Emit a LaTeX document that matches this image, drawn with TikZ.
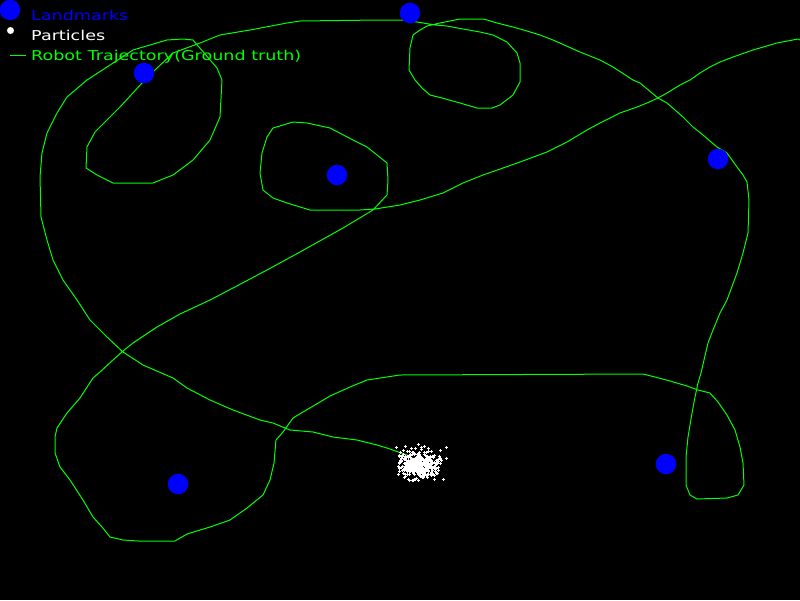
\documentclass[tikz,border=0pt]{standalone}
\usepackage{fontspec}
\newfontfamily\hfont[FakeStretch=1.29]{DejaVu Sans}
\definecolor{lmblue}{RGB}{0,0,255}
\definecolor{trgreen}{RGB}{0,255,0}
\tikzset{
  landmark/.style={circle,fill=lmblue,inner sep=0pt,minimum size=20.5pt},
  traj/.style={draw=trgreen,line width=1pt,line join=round},
  legtext/.style={anchor=base west,inner sep=0pt,font=\hfont\fontsize{13.6}{14}\selectfont},
  particle/.style={draw=white,line width=1pt}
}
\begin{document}
\begin{tikzpicture}[x=1pt,y=-1pt]
\fill[black] (0,0) rectangle (800,600);
\useasboundingbox (0,0) rectangle (800,600);

% trajectory
\draw[traj] (800,40) -- (798,39) -- (777,43) -- (753,50) -- (733,57) -- (720,62) -- (710,67) -- (700,73) -- (690,80) -- (680,85) -- (667,93) -- (658,98) -- (647,103) -- (637,107) -- (620,113) -- (600,123) -- (587,130) -- (567,142) -- (547,152) -- (520,162) -- (503,168) -- (483,175) -- (463,183) -- (443,193) -- (420,200) -- (400,205) -- (375,209) -- (360,210) -- (310,210) -- (287,203) -- (273,198) -- (263,190) -- (260,173) -- (262,153) -- (267,137) -- (273,128) -- (293,122) -- (307,123) -- (330,128) -- (353,140) -- (367,147) -- (387,163) -- (388,180) -- (387,195) -- (373,210) -- (343,228) -- (300,252) -- (267,270) -- (233,288) -- (210,300) -- (180,314) -- (157,327) -- (133,343) -- (123,351) -- (113,360) -- (100,372) -- (93,378) -- (80,398) -- (67,413) -- (57,428) -- (55,437) -- (55,453) -- (60,467) -- (70,480) -- (83,500) -- (93,517) -- (102,527) -- (110,537) -- (123,540) -- (138,541) -- (175,541) -- (187,534) -- (210,527) -- (230,520) -- (247,508) -- (263,495) -- (270,480) -- (274,463) -- (276,440) -- (283,432) -- (293,418) -- (303,412) -- (320,402) -- (330,396) -- (350,387) -- (367,380) -- (400,375) -- (643,374) -- (655,377) -- (670,381) -- (687,386) -- (698,390) -- (710,393) -- (718,402) -- (727,415) -- (735,430) -- (740,447) -- (743,463) -- (744,485) -- (738,495) -- (727,498) -- (697,499) -- (690,495) -- (686,485) -- (686,457) -- (688,437) -- (692,413) -- (695,397) -- (698,383) -- (701,373) -- (704,360) -- (708,343) -- (713,330) -- (720,313) -- (727,300) -- (737,273) -- (743,253) -- (748,233) -- (749,200) -- (747,182) -- (743,175) -- (737,167) -- (727,153) -- (717,147) -- (703,135) -- (693,127) -- (683,117) -- (667,103) -- (658,98) -- (640,83) -- (633,80) -- (613,67) -- (600,60) -- (580,52) -- (553,40) -- (540,35) -- (527,31) -- (513,27) -- (497,23) -- (487,20) -- (483,19) -- (460,19) -- (440,23) -- (427,26) -- (420,30) -- (413,35) -- (410,48) -- (409,70) -- (415,80) -- (422,88) -- (430,95) -- (442,98) -- (460,103) -- (477,108) -- (492,108) -- (500,105) -- (513,95) -- (520,82) -- (520,63) -- (517,53) -- (507,42) -- (493,35) -- (480,32) -- (463,29) -- (447,26) -- (435,25) -- (417,22) -- (402,20) -- (380,20) -- (300,21) -- (287,23) -- (250,30) -- (220,35) -- (200,43) -- (173,53) -- (155,70) -- (143,82) -- (120,107) -- (95,132) -- (87,147) -- (86,168) -- (97,175) -- (113,183) -- (153,183) -- (173,175) -- (193,160) -- (210,140) -- (220,117) -- (222,80) -- (217,68) -- (193,40) -- (183,39) -- (167,40) -- (133,50) -- (107,67) -- (87,80) -- (67,97) -- (57,113) -- (47,133) -- (42,153) -- (40,177) -- (41,217) -- (47,240) -- (53,260) -- (63,280) -- (77,300) -- (90,320) -- (107,337) -- (123,352) -- (143,365) -- (173,378) -- (187,388) -- (210,400) -- (233,410) -- (260,420) -- (273,423) -- (285,428) -- (290,430) -- (313,432) -- (333,437) -- (357,440) -- (377,445) -- (387,448) -- (407,455) -- (415,460);

% landmarks
\node[landmark] (lm1) at (144,73) {};
\node[landmark] (lm2) at (410,13) {};
\node[landmark] (lm3) at (337,175) {};
\node[landmark] (lm4) at (718,159) {};
\node[landmark] (lm5) at (178,484) {};
\node[landmark] (lm6) at (666,464) {};

% particles
\pgfmathsetseed{7}
\foreach \i in {1,...,380}{
  \pgfmathsetmacro{\px}{419+9.5*(rand+rand+rand)}
  \pgfmathsetmacro{\py}{464+6.5*(rand+rand+rand)}
  \draw[particle] (\px-1.5,\py) -- (\px+1.5,\py) (\px,\py-1.5) -- (\px,\py+1.5);
}
\foreach \i in {1,...,30}{
  \pgfmathsetmacro{\px}{421+26*rand}
  \pgfmathsetmacro{\py}{463+19*rand}
  \draw[particle] (\px-1.5,\py) -- (\px+1.5,\py) (\px,\py-1.5) -- (\px,\py+1.5);
}

% legend
\node[landmark] (leglm) at (10,10) {};
\node[circle,fill=white,inner sep=0pt,minimum size=7pt] (legpt) at (10.5,30.5) {};
\coordinate (lgA) at (10,55);
\coordinate (lgB) at (26,55);
\draw[traj] (lgA) -- (lgB);
\node[legtext,text=lmblue] (t1) at (31,20) {Landmarks};
\node[legtext,text=white] (t2) at (31,40) {Particles};
\node[legtext,text=trgreen] (t3) at (31,60) {Robot Trajectory(Ground truth)};
\end{tikzpicture}
\end{document}
